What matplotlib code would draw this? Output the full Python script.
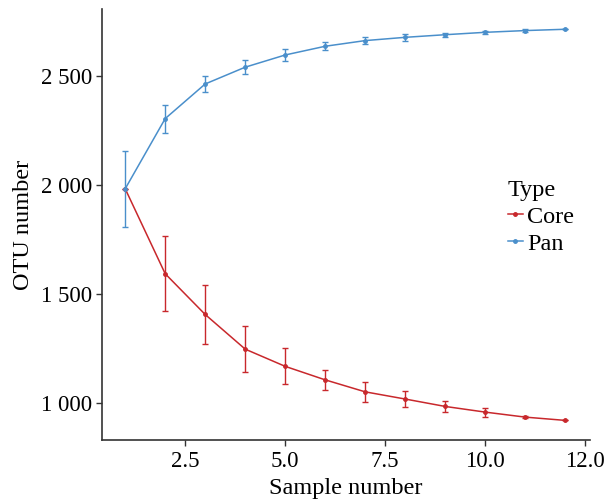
import matplotlib
matplotlib.use("Agg")
import matplotlib.pyplot as plt
from matplotlib.lines import Line2D

plt.rcParams['font.family'] = ['Liberation Serif', 'DejaVu Serif']

sample_number = [1, 2, 3, 4, 5, 6, 7, 8, 9, 10, 11, 12]
core_mean = [1982, 1592, 1405, 1246, 1167, 1105, 1050, 1017, 983, 957, 934, 919]
core_err = [0, 172, 134, 105, 83, 45, 45, 38, 27, 21, 3, 0]
pan_mean = [1982, 2304, 2463, 2540, 2596, 2636, 2662, 2677, 2689, 2700, 2708, 2714]
pan_err = [175, 64, 37, 31, 26, 19, 17, 15, 10, 7, 5, 0]

x_ticks = [2.5, 5.0, 7.5, 10.0, 12.5]
x_tick_labels = ["2.5", "5.0", "7.5", "10.0", "12.0"]
y_ticks = [1000, 1500, 2000, 2500]
y_tick_labels = ["1 000", "1 500", "2 000", "2 500"]

core_color = "#C8282C"
pan_color = "#4A8FCB"

fig = plt.figure(figsize=(6.06, 5.0), dpi=100)
ax = fig.add_axes([102/606, 1-440/500, (590-102)/606, (440-9)/500])

for mean, err, col in [(core_mean, core_err, core_color), (pan_mean, pan_err, pan_color)]:
    ax.errorbar(sample_number, mean, yerr=err, color=col, lw=1.1, marker='o', ms=2.5,
                capsize=2.3, elinewidth=1.0, capthick=1.0)

ax.set_xlim(0.42, 12.62)
ax.set_ylim(829, 2807)
ax.set_xticks(x_ticks)
ax.set_xticklabels(x_tick_labels)
ax.set_yticks(y_ticks)
ax.set_yticklabels(y_tick_labels)
ax.tick_params(axis='both', labelsize=16.5, length=4, width=1.0, color='#333333', labelcolor='black', pad=3)
ax.tick_params(axis='x', pad=4)
for s in ['top', 'right']:
    ax.spines[s].set_visible(False)
for s in ['left', 'bottom']:
    ax.spines[s].set_color('#333333')
    ax.spines[s].set_linewidth(1.2)
ax.set_xlabel("Sample number", fontsize=17.5, labelpad=4)
ax.set_ylabel("OTU number", fontsize=17.5, labelpad=5)

handles = [Line2D([0], [0], color=core_color, lw=1.1, marker='o', ms=2.5),
           Line2D([0], [0], color=pan_color, lw=1.1, marker='o', ms=2.5)]
leg = ax.legend(handles, ["Core", "Pan"], title="Type", frameon=False, fontsize=17.5,
                title_fontsize=17.5, loc='upper left', bbox_to_anchor=(0.832, 0.603),
                handlelength=0.6, handletextpad=0.2, labelspacing=0.2, borderaxespad=0,
                borderpad=0)
leg._legend_box.align = "left"

fig.savefig("out.png", dpi=100)
